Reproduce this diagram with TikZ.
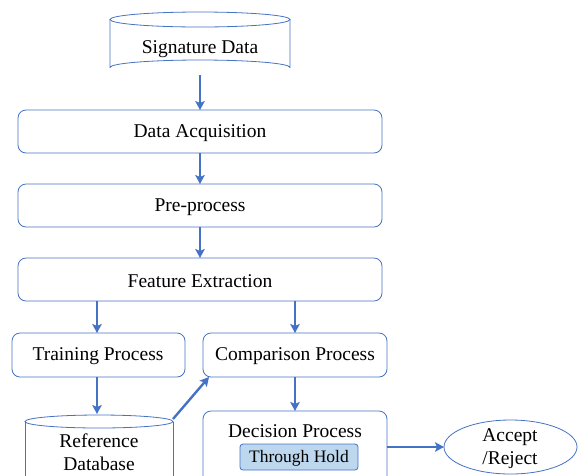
\documentclass[tikz,border=0pt]{standalone}
\usepackage{fontspec}
\setmainfont{Liberation Serif}
\usetikzlibrary{arrows.meta}
\definecolor{bord}{HTML}{4472C4}
\definecolor{lfill}{HTML}{BDD7EE}
\begin{document}
\begin{tikzpicture}[x=1pt,y=-1pt,
  lbl/.style={font=\fontsize{19.5}{22}\selectfont, inner sep=0pt, align=center},
  procbox/.style={draw=bord, line width=0.8pt, rounded corners=8pt, fill=white},
  conn/.style={draw=bord, line width=2.4pt, -{Stealth[length=9pt,width=9.5pt,inset=2pt]}},
  shp/.style={draw=bord, line width=0.8pt}]
\useasboundingbox (0,0) rectangle (578,475);
\clip (0,0) rectangle (578,475);
% Signature Data cylinder
\draw[shp] (110,19.5) -- (110,67.5) arc[start angle=180,end angle=360,x radius=90,y radius=7.5] -- (290,19.5);
\draw[shp] (200,19.5) ellipse[x radius=90,y radius=7.5];
\node[lbl] (sig) at (200,49.5) {Signature Data};
\coordinate (sigb) at (200,75);
% boxes
\draw[procbox] (18,110) rectangle (382,153);
\node[lbl] (acq) at (200,133.5) {Data Acquisition};
\draw[procbox] (18,184) rectangle (382,227);
\node[lbl] (pre) at (200,207.5) {Pre-process};
\draw[procbox] (18,258) rectangle (382,301);
\node[lbl] (fe) at (200,281.5) {Feature Extraction};
\draw[procbox] (12,333) rectangle (185,377);
\node[lbl] (tr) at (98,356.5) {Training Process};
\draw[procbox] (203,333) rectangle (387,377);
\node[lbl] (cmp) at (295,356.5) {Comparison Process};
\draw[procbox] (203,411) rectangle (387,495);
\node[lbl] (dec) at (295,431) {Decision Process};
\draw[draw=bord, line width=0.8pt, fill=lfill, rounded corners=3pt] (240,444) rectangle (358,470);
\node[lbl, font=\fontsize{17.5}{20}\selectfont] (th) at (299,458) {Through Hold};
% Reference Database cylinder
\draw[shp] (25,421.5) -- (25,500) (173,421.5) -- (173,500);
\draw[shp] (99,421.5) ellipse[x radius=74,y radius=6.5];
\node[lbl] (ref) at (99,452) {Reference\\[1pt]Database};
% Accept/Reject ellipse
\draw[shp] (510.5,447) ellipse[x radius=66.5,y radius=27];
\node[lbl, font=\fontsize{19.5}{23}\selectfont] (acc) at (510,449) {Accept\\/Reject};
% coordinates
\coordinate (acqT) at (200,110); \coordinate (acqB) at (200,153);
\coordinate (preT) at (200,184); \coordinate (preB) at (200,227);
\coordinate (feT) at (200,258);
\coordinate (feB1) at (97,301); \coordinate (trT) at (97,333);
\coordinate (feB2) at (295,301); \coordinate (cmpT) at (295,333);
\coordinate (trB) at (97,377); \coordinate (refT) at (97,414);
\coordinate (refR) at (173,419); \coordinate (cmpL) at (209,377);
\coordinate (cmpB) at (295,377); \coordinate (decT) at (295,411);
\coordinate (decR) at (387,447); \coordinate (accL) at (444,447);
% connectors
\draw[conn] (sigb) -- (acqT);
\draw[conn] (acqB) -- (preT);
\draw[conn] (preB) -- (feT);
\draw[conn] (feB1) -- (trT);
\draw[conn] (feB2) -- (cmpT);
\draw[conn] (trB) -- (refT);
\draw[conn] (refR) -- (cmpL);
\draw[conn] (cmpB) -- (decT);
\draw[conn] (decR) -- (accL);
\end{tikzpicture}
\end{document}
